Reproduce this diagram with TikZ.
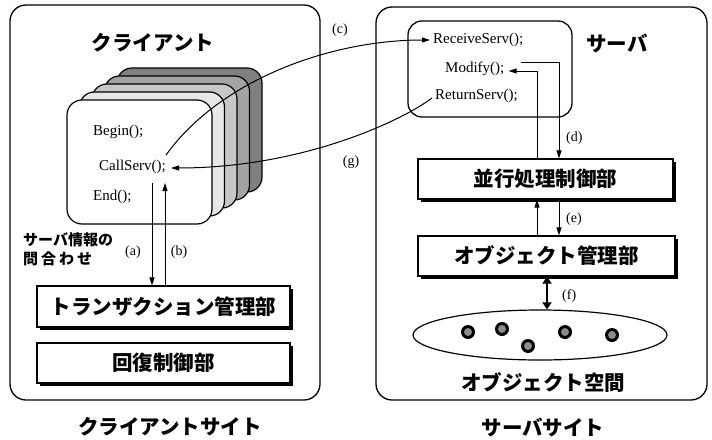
\documentclass[tikz,border=0pt]{standalone}
\usepackage{fontspec}
\setmainfont{Liberation Serif}
\newfontfamily\jp{Noto Sans CJK JP}
\usetikzlibrary{arrows.meta,calc,shadows,shapes.geometric}
\begin{document}
\begin{tikzpicture}[x=1pt,y=-1pt,
  outerbox/.style={draw,line width=1.3pt,rounded corners=16pt},
  cardbox/.style={draw,line width=1.2pt,rounded corners=15pt},
  latin/.style={font=\fontsize{15}{17}\selectfont,inner sep=0pt},
  lab/.style={font=\fontsize{14}{16}\selectfont,inner sep=0pt},
  jpbig/.style={font=\jp\bfseries\fontsize{20.5}{22}\selectfont,inner sep=0pt},
  jpsmall/.style={font=\jp\bfseries\fontsize{15}{18}\selectfont,inner sep=0pt},
  shbox/.style={draw,line width=1.2pt,fill=white,font=\jp\bfseries\fontsize{20.5}{22}\selectfont,
     drop shadow={shadow xshift=3pt,shadow yshift=-3pt,fill=black,opacity=1}},
  arr/.style={line width=1pt,-{Triangle[length=8pt,width=5pt]}},
  dot/.style={circle,fill=black,minimum size=14pt,inner sep=0pt}
]
\useasboundingbox (0,0) rectangle (712,439);

% outer site boxes
\node[outerbox,minimum width=310pt,minimum height=395pt] (client) at (165,202.5) {};
\node[outerbox,minimum width=331pt,minimum height=393pt] (server) at (541.5,203.5) {};

\node[jpbig] (clienttitle) at (153,43) {クライアント};
\node[jpbig] (clientsite) at (170,427) {クライアントサイト};
\node[jpbig] (serversite) at (543,427) {サーバサイト};

% stacked cards
\draw[cardbox,fill=black!50] (67+50,100-32) rectangle (212+50,224-32);
\draw[cardbox,fill=black!36] (67+37.5,100-24) rectangle (212+37.5,224-24);
\draw[cardbox,fill=black!22] (67+25,100-16) rectangle (212+25,224-16);
\draw[cardbox,fill=black!9] (67+12.5,100-8) rectangle (212+12.5,224-8);
\node[cardbox,fill=white,minimum width=145pt,minimum height=124pt] (card) at (139.5,162) {};

\node[latin,anchor=west] (begin) at (93,132) {Begin();};
\node[latin,anchor=west] (call) at (99,167) {CallServ();};
\node[latin,anchor=west] (endn) at (93,197) {End();};

% client lower boxes
\node[shbox,minimum width=253pt,minimum height=41pt] (tx) at (163.5,306.5) {トランザクション管理部};
\node[shbox,minimum width=253pt,minimum height=40pt] (rec) at (163.5,363) {回復制御部};

\node[jpsmall,anchor=west] (ask1) at (23,240) {サーバ情報の};
\node[jpsmall,anchor=west] (ask2) at (23,259) {問\kern3pt 合\kern3pt わ\kern3pt せ};
\node[lab] (la) at (133,252) {(a)};
\node[lab] (lb) at (179,252) {(b)};

\draw[arr] (152,183) -- (tx.north -| 152,0);
\draw[arr] (tx.north -| 165,0) -- (165,183);

% server inner box
\node[cardbox,line width=1.3pt,rounded corners=14pt,minimum width=164pt,minimum height=96pt] (srv) at (490,69) {};
\node[jpbig] (srvtitle) at (617,43) {サーバ};
\node[latin,anchor=west] (recv) at (433,40) {ReceiveServ();};
\node[latin,anchor=west] (modify) at (445,69) {Modify();};
\node[latin,anchor=west] (ret) at (435,96) {ReturnServ();};

% server lower boxes
\node[shbox,minimum width=255pt,minimum height=40pt] (par) at (545.5,179) {並行処理制御部};
\node[shbox,minimum width=257pt,minimum height=40pt] (obj) at (546.5,256) {オブジェクト管理部};

% object space
\node[draw,ellipse,line width=1.2pt,minimum width=254pt,minimum height=50pt,inner sep=0pt] (space) at (540,335) {};
\foreach \n/\p in {o1/{(468,332)},o2/{(502,329)},o3/{(528,346)},o4/{(565,332)},o5/{(612,335)}}{
  \node[dot] (\n) at \p {};
  \fill[black!45] (\n.center) circle (4pt);
}
\node[jpbig] (spacelab) at (543,382) {オブジェクト空間};

% (c) and (g)
\coordinate (cstart) at ($(call.east)+(0,-12)$);
\draw[arr] (cstart) .. controls (220,80) and (330,40) .. ($(recv.west)+(-3,0)$);
\node[lab] (lc) at (340,30) {(c)};
\draw[arr] ($(ret.west)+(-3,2)$) .. controls (400,122) and (300,168) .. ($(call.east)+(5,1)$);
\node[lab] (lg) at (351,162) {(g)};

% (d)
\coordinate (dstart) at ($(modify.east)+(16,-7)$);
\draw[arr] (dstart) -| (par.north -| 559,0);
\draw[arr] (par.north -| 537,0) |- ($(modify.east)+(4,2)$);
\node[lab,anchor=west] (ld) at (566,138) {(d)};

% (e)
\draw[arr] (obj.north -| 537,0) -- (par.south -| 537,0);
\draw[arr] (par.south -| 559,0) -- (obj.north -| 559,0);
\node[lab,anchor=west] (le) at (566,219) {(e)};

% (f)
\draw[line width=2.6pt,{Triangle[length=7pt,width=9pt]}-{Triangle[length=7pt,width=9pt]}] (obj.south -| 547,0) -- (space.north -| 547,0);
\node[lab,anchor=west] (lf) at (562,296) {(f)};
\end{tikzpicture}
\end{document}
